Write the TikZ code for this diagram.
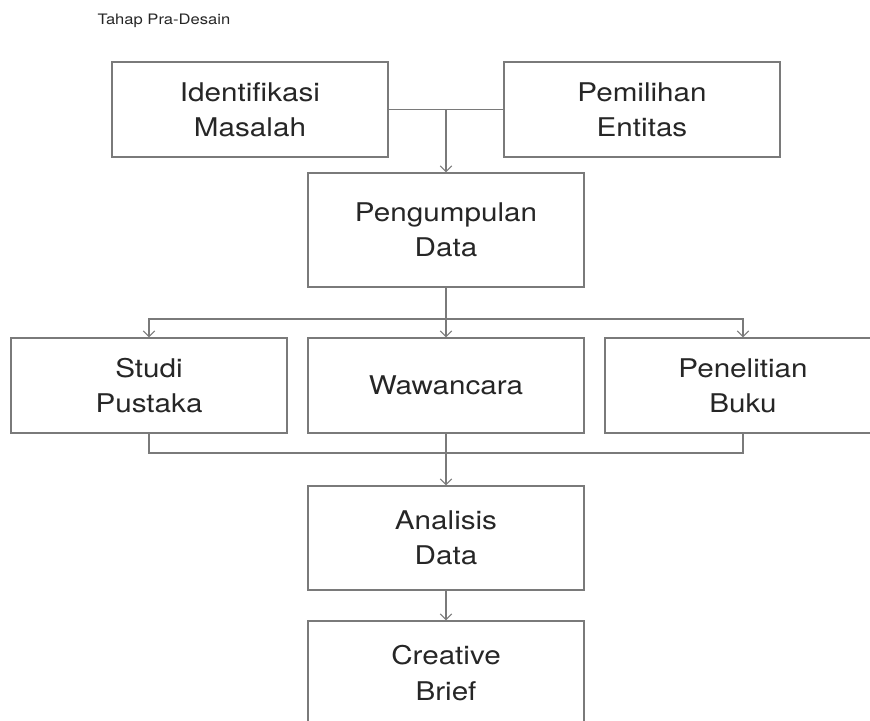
\documentclass[tikz,border=0pt]{standalone}
\usepackage{fontspec}
\setmainfont[FakeStretch=1.15]{TeX Gyre Heros}
\usetikzlibrary{arrows.meta}
\definecolor{linegray}{HTML}{7A7A7A}
\definecolor{textgray}{HTML}{262626}

\begin{document}
\begin{tikzpicture}[x=0.03cm,y=-0.03cm,
	line width=0.9pt,
	>={Straight Barb[length=5pt,width=10pt]},
	box/.style={draw=linegray, text=textgray, align=center,
		minimum width=8.28cm, inner sep=0pt,
		font=\fontsize{22}{30}\selectfont},
	link/.style={draw=linegray}]
	
	\useasboundingbox (0,0) rectangle (870,720);
	
	%----------------------------
	% Title
	%----------------------------
	\node[anchor=west, text=textgray, inner sep=0pt, font=\fontsize{12.3}{14}\selectfont] (title) at (97,21) {Tahap Pra-Desain};
	
	%----------------------------
	% Top row
	%----------------------------
	\node[box, minimum height=2.85cm] (identifikasi) at (250,109.5) {Identifikasi\\Masalah};
	\node[box, minimum height=2.85cm] (pemilihan) at (642,109.5) {Pemilihan\\Entitas};
	\node[box, minimum height=3.42cm] (pengumpulan) at (446,230) {Pengumpulan\\Data};
	
	%----------------------------
	% Middle row: methods
	%----------------------------
	\node[box, minimum height=2.85cm] (studi) at (149,385.5) {Studi\\Pustaka};
	\node[box, minimum height=2.85cm] (wawancara) at (446,385.5) {Wawancara};
	\node[box, minimum height=2.85cm] (penelitian) at (743,385.5) {Penelitian\\Buku};
	
	%----------------------------
	% Bottom: analysis and brief
	%----------------------------
	\node[box, minimum height=3.12cm] (analisis) at (446,538) {Analisis\\Data};
	\node[box, minimum height=3.12cm] (brief) at (446,673) {Creative\\Brief};
	
	% junction points
	\coordinate (topjoin) at (446,109.5);
	\coordinate (split) at (446,319);
	\coordinate (merge) at (446,453);
	
	%----------------------------
	% Connectors
	%----------------------------
	\draw[link] (identifikasi.east) -- (pemilihan.west);
	\draw[link,->] (topjoin) -- (pengumpulan.north);
	
	\draw[link,->] (pengumpulan.south) -- (wawancara.north);
	\draw[link,->] (split) -| (studi.north);
	\draw[link,->] (split) -| (penelitian.north);
	
	\draw[link] (studi.south) |- (merge);
	\draw[link] (penelitian.south) |- (merge);
	\draw[link,->] (wawancara.south) -- (analisis.north);
	\draw[link,->] (analisis.south) -- (brief.north);
	
\end{tikzpicture}
\end{document}
